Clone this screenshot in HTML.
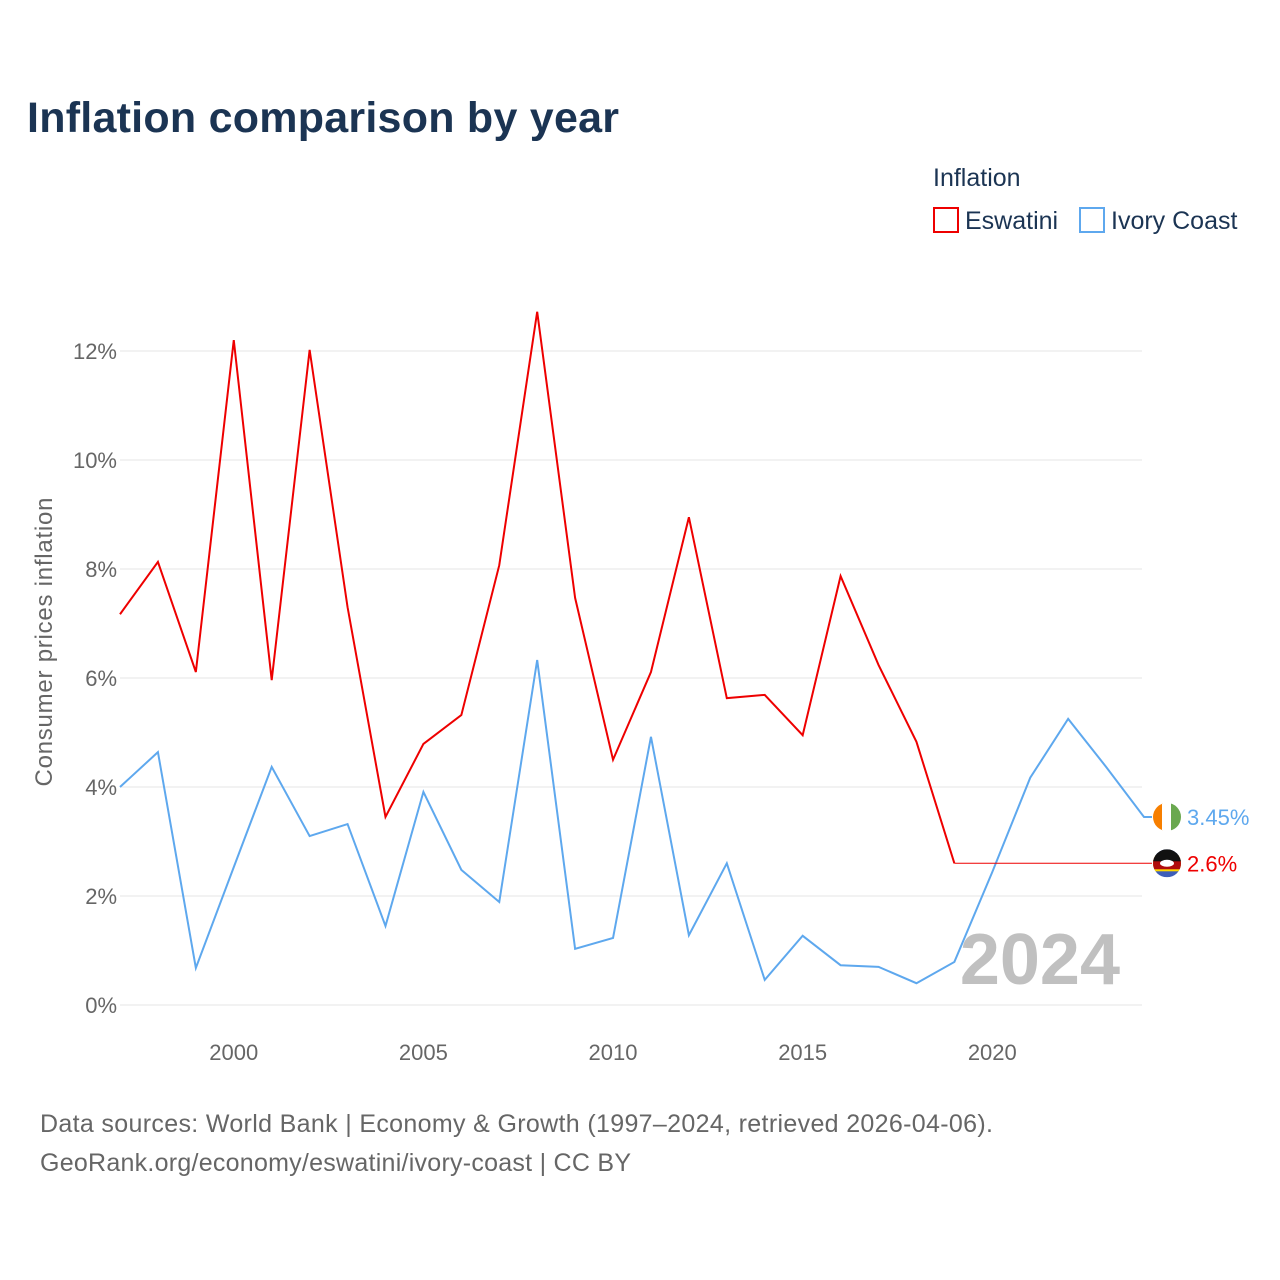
<!DOCTYPE html>
<html><head><meta charset="utf-8">
<style>
body{margin:0;background:#fff;font-family:"Liberation Sans",sans-serif;}
#wrap{position:relative;width:1280px;height:1280px;overflow:hidden;}
</style></head>
<body>
<div id="wrap">
<svg id="chart" width="1280" height="1280">
  <text x="27" y="132" font-size="43" font-weight="bold" fill="#1b3453" textLength="592">Inflation comparison by year</text>
  <text x="933" y="186" font-size="25" fill="#1b3453">Inflation</text>
  <g>
    <rect x="934" y="208" width="24" height="24" fill="none" stroke="#ee0000" stroke-width="2"/>
    <text x="965" y="229" font-size="25" fill="#1b3453">Eswatini</text>
  </g>
  <g>
    <rect x="1080" y="208" width="24" height="24" fill="none" stroke="#5ea8ee" stroke-width="2"/>
    <text x="1111" y="229" font-size="25" fill="#1b3453">Ivory Coast</text>
  </g>
  <g id="grid"></g>
  <g id="xticks"></g>
  <text transform="translate(52,642) rotate(-90)" text-anchor="middle" font-size="24" fill="#666" textLength="289">Consumer prices inflation</text>
  <text x="1120" y="984" text-anchor="end" font-size="72" font-weight="bold" fill="#c0c0c0">2024</text>
  <g id="series"></g>
  <text x="40" y="1132" font-size="25" fill="#666" textLength="953">Data sources: World Bank | Economy &amp; Growth (1997–2024, retrieved 2026-04-06).</text>
  <text x="40" y="1171" font-size="25" fill="#666" textLength="591">GeoRank.org/economy/eswatini/ivory-coast | CC BY</text>
</svg>
</div>
<script>
const years = [1997,1998,1999,2000,2001,2002,2003,2004,2005,2006,2007,2008,2009,2010,2011,2012,2013,2014,2015,2016,2017,2018,2019,2020,2021,2022,2023,2024];
const eswatini = [7.17,8.13,6.11,12.2,5.96,12.02,7.3,3.45,4.79,5.32,8.07,12.72,7.47,4.5,6.11,8.95,5.63,5.69,4.95,7.87,6.24,4.83,2.6,null,null,null,null,null];
const eswatiniLatest = 2.6;
const ivoryCoast = [4.0,4.64,0.68,2.53,4.37,3.1,3.32,1.45,3.91,2.48,1.89,6.33,1.03,1.23,4.92,1.28,2.6,0.46,1.27,0.73,0.7,0.4,0.79,2.44,4.17,5.25,4.37,3.45];
const yTicks = [0,2,4,6,8,10,12];
const xTicks = [2000,2005,2010,2015,2020];

const NS="http://www.w3.org/2000/svg";
const X = y => 120 + (y-1997)*(1144-120)/27;
const Y = v => 1005 - v*54.5;
function mk(tag, attrs, parent){const e=document.createElementNS(NS,tag);for(const k in attrs)e.setAttribute(k,attrs[k]);parent.appendChild(e);return e;}
const grid=document.getElementById('grid'), xt=document.getElementById('xticks'), ser=document.getElementById('series');
yTicks.forEach(t=>{
  const l=mk('line',{x1:120,x2:1142,y1:Y(t),y2:Y(t),stroke:'#e6e6e6','stroke-width':1},grid);
  
  
  const tx=mk('text',{x:117,y:Y(t)+8,'text-anchor':'end','font-size':22,fill:'#666'},grid);
  tx.textContent=t+'%';
  
  
});
xTicks.forEach(t=>{
  const tx=mk('text',{x:X(t),y:1060,'text-anchor':'middle','font-size':22,fill:'#666'},xt);
  tx.textContent=t;
  
  
});
function line(vals,color,name,extend){
  const pts=[];vals.forEach((v,i)=>{if(v!==null)pts.push([X(years[i]),Y(v)]);});
  let d=pts.map((p,i)=>(i?'L':'M')+p[0]+','+p[1]).join(' ');
  if(extend) d+=' L'+(X(years[years.length-1])+8)+','+pts[pts.length-1][1];
  const p=mk('path',{d:d,fill:'none',stroke:color,'stroke-width':2},ser);
  
  
  return pts[pts.length-1];
}
const lastE=line(eswatini,'#ee0000','eswatini',false);
line(ivoryCoast,'#5ea8ee','ivory-coast',true);
const conn=mk('line',{x1:lastE[0],y1:lastE[1],x2:1152,y2:lastE[1],stroke:'#ee0000','stroke-width':1},ser);


const ic=ivoryCoast[ivoryCoast.length-1], es=eswatiniLatest;
const fy=Y(ic);
const g1=mk('g',{},ser);


const cp1=mk('clipPath',{id:'c1'},g1);mk('circle',{cx:1167,cy:fy,r:14},cp1);
mk('rect',{x:1153,y:fy-14,width:10,height:28,fill:'#f77f00','clip-path':'url(#c1)'},g1);
mk('rect',{x:1162,y:fy-14,width:10,height:28,fill:'#fff','clip-path':'url(#c1)'},g1);
mk('rect',{x:1171,y:fy-14,width:10,height:28,fill:'#6aa84f','clip-path':'url(#c1)'},g1);
const l1=mk('text',{x:1187,y:fy+8,'font-size':22,fill:'#5ea8ee'},ser);
l1.textContent=ic+'%';


const ey=Y(es);
const g2=mk('g',{},ser);


const cp=mk('clipPath',{id:'c2'},g2);mk('circle',{cx:1167,cy:ey,r:14},cp);
mk('rect',{x:1153,y:ey-14,width:28,height:28,fill:'#3e5eb9','clip-path':'url(#c2)'},g2);
mk('rect',{x:1153,y:ey-8,width:28,height:16,fill:'#ffd900','clip-path':'url(#c2)'},g2);
mk('rect',{x:1153,y:ey-6,width:28,height:12,fill:'#b10c0c','clip-path':'url(#c2)'},g2);
mk('rect',{x:1153,y:ey-14,width:28,height:12,fill:'#111','clip-path':'url(#c2)'},g2);
mk('ellipse',{cx:1167,cy:ey,rx:7,ry:3.5,fill:'#fff'},g2);
const l2=mk('text',{x:1187,y:ey+8,'font-size':22,fill:'#ee0000'},ser);
l2.textContent=es+'%';


</script>
</body></html>
